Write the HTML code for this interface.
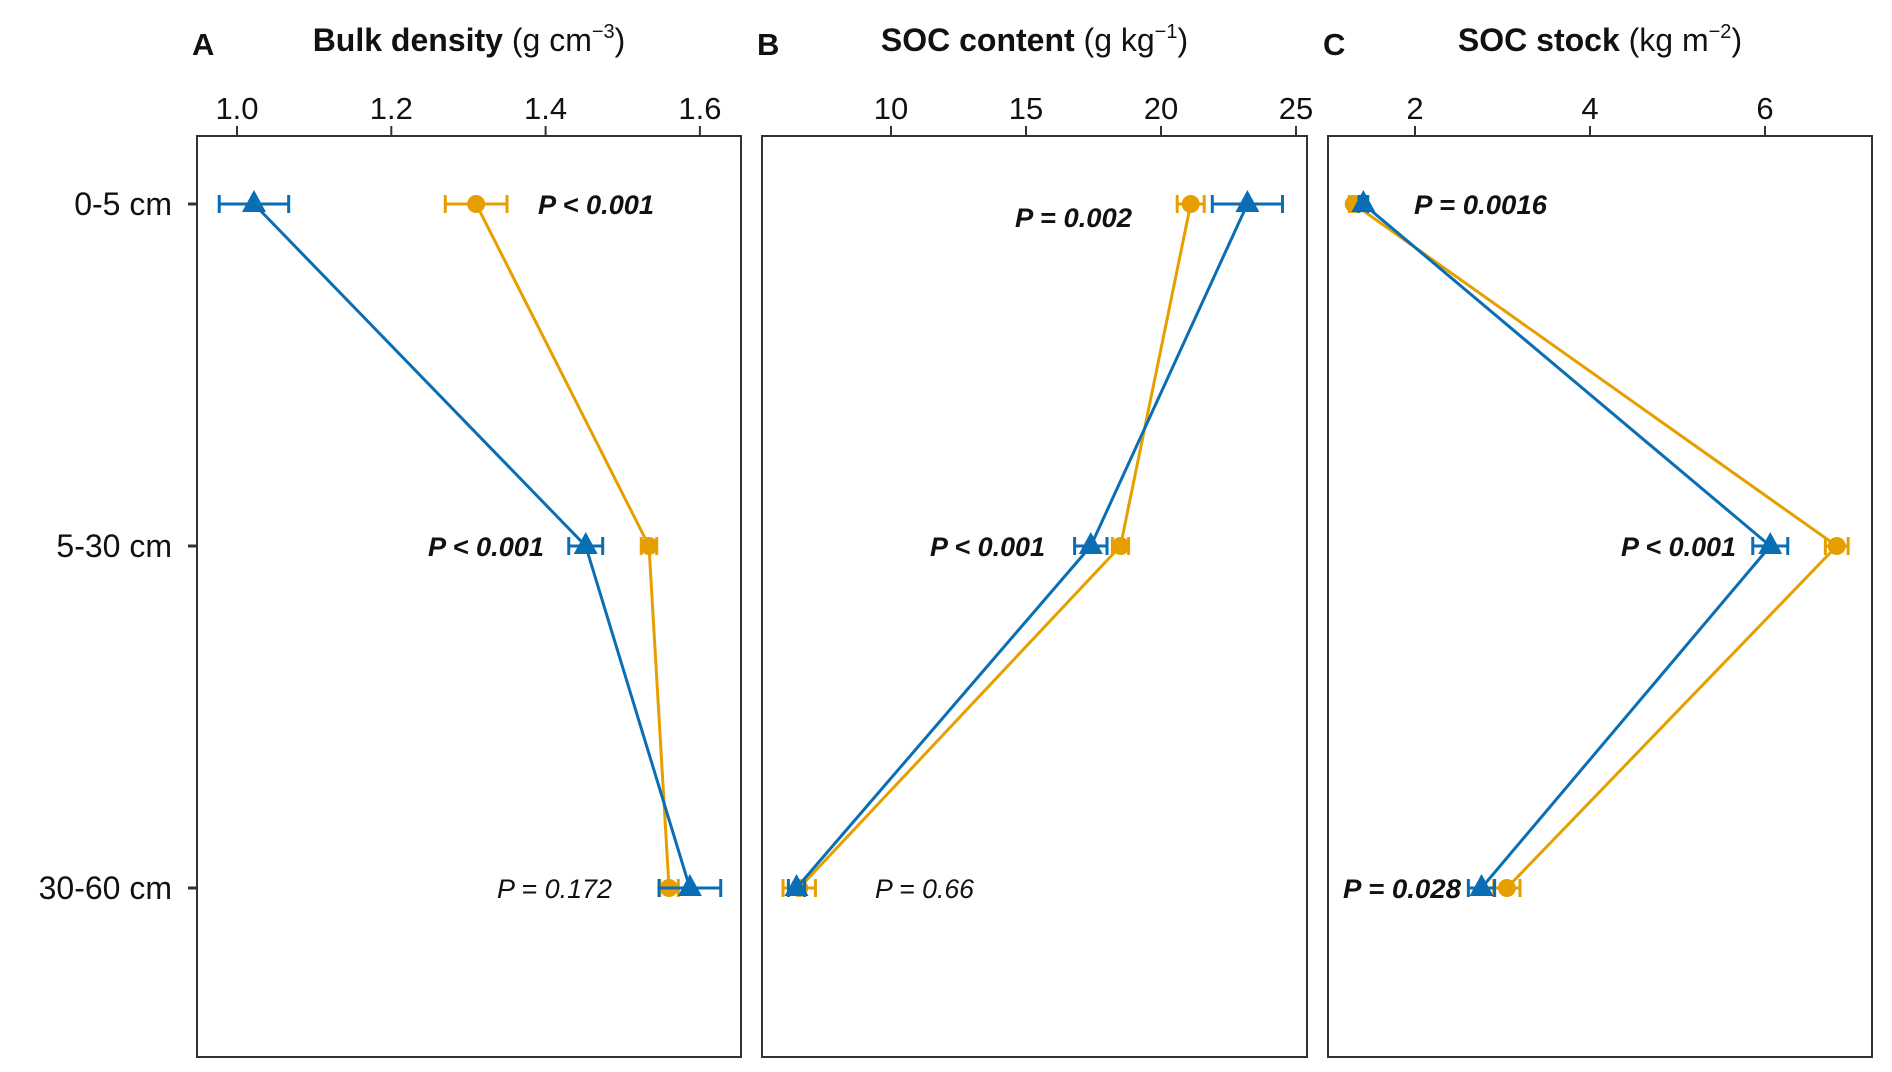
<!DOCTYPE html>
<html><head><meta charset="utf-8"><style>
body{margin:0;background:#fff}
svg{display:block;font-family:"Liberation Sans Narrow","Liberation Sans",sans-serif}
</style></head><body>
<svg id="chart" width="1892" height="1072" viewBox="0 0 1892 1072"></svg>
<script>
const depths = ["0-5 cm", "5-30 cm", "30-60 cm"];
const bdBlue = [1.022, 1.452, 1.587];
const bdBlueErr = [0.045, 0.022, 0.04];
const bdOrange = [1.31, 1.534, 1.56];
const bdOrangeErr = [0.04, 0.01, 0.012];
const socBlue = [23.2, 17.4, 6.5];
const socBlueErr = [1.3, 0.6, 0.3];
const socOrange = [21.1, 18.5, 6.6];
const socOrangeErr = [0.5, 0.3, 0.6];
const stockBlue = [1.41, 6.06, 2.76];
const stockBlueErr = [0.05, 0.2, 0.15];
const stockOrange = [1.30, 6.82, 3.05];
const stockOrangeErr = [0.05, 0.13, 0.15];
const bdTicks = ["1.0", "1.2", "1.4", "1.6"];
const socTicks = ["10", "15", "20", "25"];
const stockTicks = ["2", "4", "6"];
const bdP = ["P < 0.001", "P < 0.001", "P = 0.172"];
const socP = ["P = 0.002", "P < 0.001", "P = 0.66"];
const stockP = ["P = 0.0016", "P < 0.001", "P = 0.028"];

const NS = "http://www.w3.org/2000/svg";
const svg = document.getElementById("chart");
const BLUE = "#0a6eb4", ORANGE = "#e69f00";
function mk(tag, attrs, parent) {
  const e = document.createElementNS(NS, tag);
  for (const k in attrs) e.setAttribute(k, attrs[k]);
  (parent || svg).appendChild(e);
  return e;
}
const rowY = i => 204 + i * 342;
const panels = [
  {letter: "A", title: "Bulk density", unit: "g cm", sup: "−3", x0: 197, x1: 741,
   sx: v => 237 + (v - 1) * 771.5, ticks: bdTicks, blue: bdBlue, be: bdBlueErr, orange: bdOrange, oe: bdOrangeErr, p: bdP,
   pl: [[538, 214, false, 116], [428, 556, false, 116], [497, 898, true, 115]], bold: [true, true, false]},
  {letter: "B", title: "SOC content", unit: "g kg", sup: "−1", x0: 762, x1: 1307,
   sx: v => 891 + (v - 10) * 27, ticks: socTicks, blue: socBlue, be: socBlueErr, orange: socOrange, oe: socOrangeErr, p: socP,
   pl: [[1015, 227, false, 117], [930, 556, false, 115], [875, 898, true, 99]], bold: [true, true, false]},
  {letter: "C", title: "SOC stock", unit: "kg m", sup: "−2", x0: 1328, x1: 1872,
   sx: v => 1415 + (v - 2) * 87.5, ticks: stockTicks, blue: stockBlue, be: stockBlueErr, orange: stockOrange, oe: stockOrangeErr, p: stockP,
   pl: [[1414, 214, false, 133], [1621, 556, false, 115], [1343, 898, false, 118]], bold: [true, true, true]}
];
panels.forEach((P, pi) => {
  const g = mk("g", {});
  
  
  const fr = mk("rect", {x: P.x0, y: 136, width: P.x1 - P.x0, height: 921, fill: "none", stroke: "#333", "stroke-width": 2}, g);
  
  
  const lt = mk("text", {x: P.x0 - 5, y: 55, "font-size": 31, "font-weight": "bold", fill: "#111"}, g);
  lt.textContent = P.letter;
  
  
  const tt = mk("text", {x: (P.x0 + P.x1) / 2, y: 51, "font-size": 32, "text-anchor": "middle", fill: "#111"}, g);
  
  
  const t1 = mk("tspan", {"font-weight": "bold"}, tt); t1.textContent = P.title + " ";
  const t2 = mk("tspan", {}, tt); t2.textContent = "(" + P.unit;
  const t3 = mk("tspan", {dy: -13, "font-size": 20}, tt); t3.textContent = P.sup;
  const t4 = mk("tspan", {dy: 13}, tt); t4.textContent = ")";
  P.ticks.forEach(t => {
    const x = P.sx(parseFloat(t));
    const tl = mk("line", {x1: x, x2: x, y1: 126, y2: 136, stroke: "#333", "stroke-width": 2}, g);
    
    
    const tx = mk("text", {x: x, y: 119, "font-size": 31, "text-anchor": "middle", fill: "#111"}, g);
    tx.textContent = t;
    
    
  });
  [[P.orange, P.oe, ORANGE, "orange"], [P.blue, P.be, BLUE, "blue"]].forEach(([vals, errs, col, nm]) => {
    const pts = vals.map((v, i) => P.sx(v) + "," + rowY(i)).join(" ");
    const pl = mk("polyline", {points: pts, fill: "none", stroke: col, "stroke-width": 3}, g);
    
    
    vals.forEach((v, i) => {
      const x = P.sx(v), y = rowY(i), xa = P.sx(v - errs[i]), xb = P.sx(v + errs[i]);
      const eb = mk("path", {d: `M${xa},${y}H${xb}M${xa},${y-9}V${y+9}M${xb},${y-9}V${y+9}`, stroke: col, "stroke-width": 3, fill: "none"}, g);
      
      
      let m;
      if (nm === "blue") m = mk("path", {d: `M${x},${y-14}L${x+12},${y+8}L${x-12},${y+8}Z`, fill: col}, g);
      else m = mk("circle", {cx: x, cy: y, r: 9, fill: col}, g);
      
      
    });
  });
  P.p.forEach((s, i) => {
    const [x, y, , len] = P.pl[i];
    const t = mk("text", {x: x, y: y, "font-size": 27, "font-style": "italic", "font-weight": P.bold[i] ? "bold" : "normal", fill: "#111", textLength: len, lengthAdjust: "spacingAndGlyphs"}, g);
    t.textContent = s;
    
    
  });
});
depths.forEach((d, i) => {
  const y = rowY(i);
  const tk = mk("line", {x1: 188, x2: 197, y1: y, y2: y, stroke: "#333", "stroke-width": 3});
  
  
  const t = mk("text", {x: 172, y: y + 11, "font-size": 32, "text-anchor": "end", fill: "#111"});
  t.textContent = d;
  
  
});
</script>
</body></html>
